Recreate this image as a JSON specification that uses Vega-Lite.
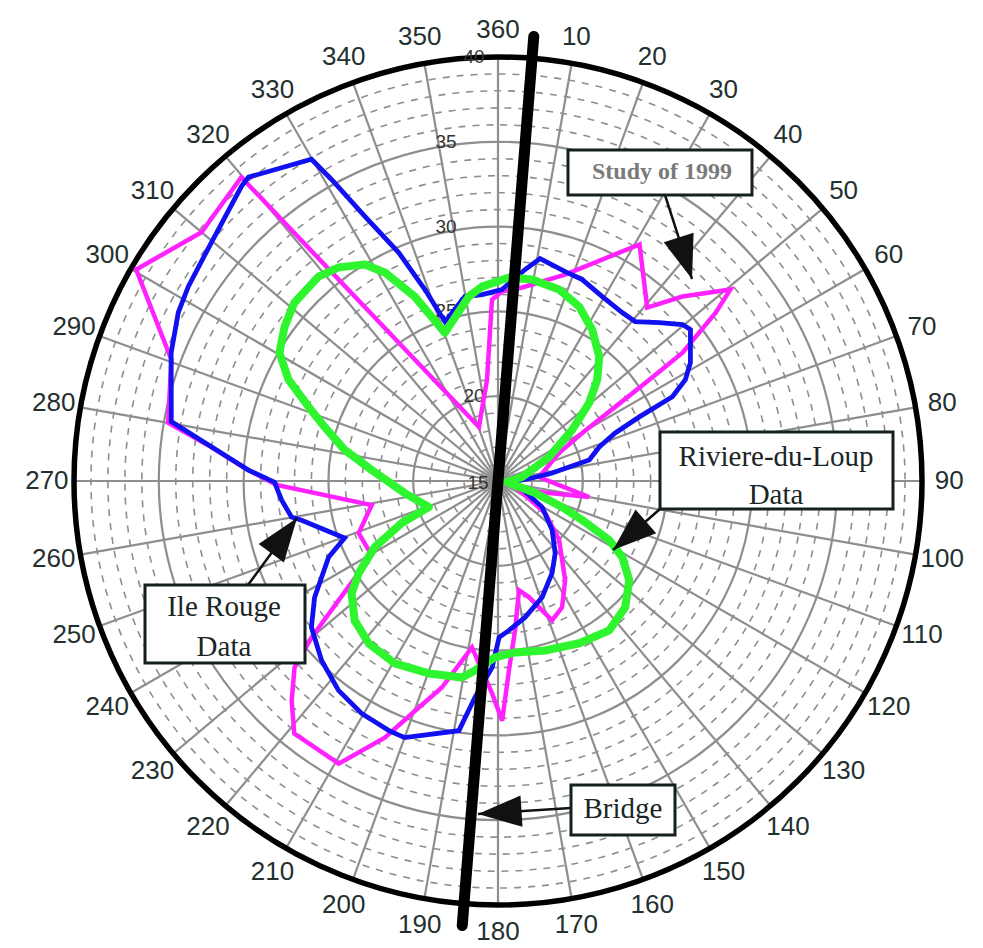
{
  "$schema": "https://vega.github.io/schema/vega-lite/v6.json",
  "width": 970,
  "height": 930,
  "autosize": {"type": "none"},
  "padding": {"left": 13, "top": 16, "right": 0, "bottom": 2},
  "background": "white",
  "config": {"view": {"stroke": null}},
  "datasets": {
    "rings": [{"v":16},{"v":17},{"v":18},{"v":19},{"v":20},{"v":21},{"v":22},{"v":23},{"v":24},{"v":25},{"v":26},{"v":27},{"v":28},{"v":29},{"v":30},{"v":31},{"v":32},{"v":33},{"v":34},{"v":35},{"v":36},{"v":37},{"v":38},{"v":39},{"v":40}],
    "spokes": [{"a":0},{"a":10},{"a":20},{"a":30},{"a":40},{"a":50},{"a":60},{"a":70},{"a":80},{"a":90},{"a":100},{"a":110},{"a":120},{"a":130},{"a":140},{"a":150},{"a":160},{"a":170},{"a":180},{"a":190},{"a":200},{"a":210},{"a":220},{"a":230},{"a":240},{"a":250},{"a":260},{"a":270},{"a":280},{"a":290},{"a":300},{"a":310},{"a":320},{"a":330},{"a":340},{"a":350}],
    "ticks": [{"a":10},{"a":20},{"a":30},{"a":40},{"a":50},{"a":60},{"a":70},{"a":80},{"a":90},{"a":100},{"a":110},{"a":120},{"a":130},{"a":140},{"a":150},{"a":160},{"a":170},{"a":180},{"a":190},{"a":200},{"a":210},{"a":220},{"a":230},{"a":240},{"a":250},{"a":260},{"a":270},{"a":280},{"a":290},{"a":300},{"a":310},{"a":320},{"a":330},{"a":340},{"a":350},{"a":360}],
    "rlabels": [{"v":25},{"v":30},{"v":35}],
    "rlabels2": [{"v":20},{"v":40}],
    "center": [{"v":15}],
    "ileRouge": [
      {"i":0,"a":1.2,"v":26.29},{"i":1,"a":7.3,"v":27.57},{"i":2,"a":10.7,"v":28.35},{"i":3,"a":17.8,"v":27.97},{"i":4,"a":22.7,"v":27.87},{"i":5,"a":29.5,"v":27.49},{"i":6,"a":36.4,"v":27.34},{"i":7,"a":40.7,"v":27.4},{"i":8,"a":45.5,"v":28.33},{"i":9,"a":49.7,"v":29.26},{"i":10,"a":51.8,"v":29.44},{"i":11,"a":58.4,"v":28.32},{"i":12,"a":61.6,"v":27.56},{"i":13,"a":64.2,"v":26.42},{"i":14,"a":65.6,"v":24.15},{"i":15,"a":67.7,"v":22.47},{"i":16,"a":71.4,"v":21.3},{"i":17,"a":77,"v":20.52},{"i":18,"a":78.8,"v":19.28},{"i":19,"a":81.6,"v":18.23},{"i":20,"a":85,"v":17.02},{"i":21,"a":100,"v":15.6},{"i":22,"a":110,"v":16.6},{"i":23,"a":120.6,"v":18.02},{"i":24,"a":132.2,"v":19.31},{"i":25,"a":141.6,"v":20.43},{"i":26,"a":149.6,"v":21.3},{"i":27,"a":159.2,"v":22.33},{"i":28,"a":168.8,"v":23.2},{"i":29,"a":175.8,"v":23.83},{"i":30,"a":179.6,"v":24.22},{"i":31,"a":181.8,"v":26},{"i":32,"a":186.1,"v":27.84},{"i":33,"a":188.9,"v":29.9},{"i":34,"a":200,"v":31.1},{"i":35,"a":203.6,"v":31.06},{"i":36,"a":210.4,"v":30.89},{"i":37,"a":217.3,"v":30.52},{"i":38,"a":224.5,"v":29.84},{"i":39,"a":231.9,"v":28.98},{"i":40,"a":237.6,"v":27.81},{"i":41,"a":245.8,"v":25.95},{"i":42,"a":249.6,"v":24.65},{"i":43,"a":258.7,"v":26.81},{"i":44,"a":260.1,"v":27.36},{"i":45,"a":265,"v":27.81},{"i":46,"a":269.7,"v":28.18},{"i":47,"a":272.5,"v":29.73},{"i":48,"a":276.8,"v":32.02},{"i":49,"a":280.3,"v":34.58},{"i":50,"a":291.4,"v":35.7},{"i":51,"a":297.8,"v":36.31},{"i":52,"a":302.1,"v":36.56},{"i":53,"a":309.8,"v":36.99},{"i":54,"a":319,"v":38.04},{"i":55,"a":320.6,"v":38.18},{"i":56,"a":329.9,"v":36.93},{"i":57,"a":331.1,"v":35.31},{"i":58,"a":333.3,"v":32.47},{"i":59,"a":336.5,"v":29.69},{"i":60,"a":339.1,"v":27.08},{"i":61,"a":341.6,"v":24.9},{"i":62,"a":349.8,"v":26.05},{"i":63,"a":355.1,"v":26.03}
    ],
    "study1999": [
      {"i":0,"a":1.2,"v":26.17},{"i":1,"a":7.1,"v":26.5},{"i":2,"a":18,"v":27.8},{"i":3,"a":30.9,"v":31.25},{"i":4,"a":40.7,"v":28.49},{"i":5,"a":45,"v":30.38},{"i":6,"a":50.5,"v":32.76},{"i":7,"a":52.3,"v":31.22},{"i":8,"a":55.2,"v":28.25},{"i":9,"a":56.2,"v":25.74},{"i":10,"a":57.7,"v":23.18},{"i":11,"a":60.3,"v":20.72},{"i":12,"a":65.3,"v":18.97},{"i":13,"a":84.4,"v":17.43},{"i":14,"a":100,"v":20.46},{"i":15,"a":113.2,"v":16.35},{"i":16,"a":124.2,"v":18.36},{"i":17,"a":134,"v":20.01},{"i":18,"a":145.9,"v":22.06},{"i":19,"a":153.1,"v":23.35},{"i":20,"a":158.8,"v":23.81},{"i":21,"a":165,"v":22.1},{"i":22,"a":169.1,"v":21.56},{"i":23,"a":173.5,"v":23.87},{"i":24,"a":176.7,"v":26.19},{"i":25,"a":179,"v":29.13},{"i":26,"a":181.6,"v":27.53},{"i":27,"a":188.9,"v":24.93},{"i":28,"a":195.2,"v":27.62},{"i":29,"a":200.3,"v":29.62},{"i":30,"a":203.8,"v":31.54},{"i":31,"a":209.4,"v":34.13},{"i":32,"a":218.9,"v":34.13},{"i":33,"a":223.2,"v":32.77},{"i":34,"a":227.5,"v":31.27},{"i":35,"a":230,"v":29.35},{"i":36,"a":239.6,"v":23.64},{"i":37,"a":249.5,"v":23.77},{"i":38,"a":259.2,"v":22.58},{"i":39,"a":269,"v":28.06},{"i":40,"a":272.8,"v":29.9},{"i":41,"a":277,"v":32.2},{"i":42,"a":280,"v":34.75},{"i":43,"a":290.4,"v":35.55},{"i":44,"a":300.3,"v":39.71},{"i":45,"a":310,"v":37.82},{"i":46,"a":319.8,"v":38.45},{"i":47,"a":340.6,"v":18.38},{"i":48,"a":353.8,"v":21},{"i":49,"a":358.1,"v":25.7}
    ],
    "riviere": [
      {"i":0,"a":3.1,"v":27.02},{"i":1,"a":9.6,"v":27.05},{"i":2,"a":17.7,"v":26.85},{"i":3,"a":25,"v":26.34},{"i":4,"a":31.9,"v":25.51},{"i":5,"a":39.2,"v":24.45},{"i":6,"a":44.4,"v":23.36},{"i":7,"a":49.4,"v":22.08},{"i":8,"a":55.4,"v":20.31},{"i":9,"a":64.8,"v":18.33},{"i":10,"a":80.5,"v":16.44},{"i":11,"a":96,"v":15.53},{"i":12,"a":108,"v":17.3},{"i":13,"a":112.1,"v":19.08},{"i":14,"a":114.9,"v":20.47},{"i":15,"a":118,"v":22.43},{"i":16,"a":121.5,"v":23.6},{"i":17,"a":127.1,"v":24.7},{"i":18,"a":134.8,"v":25.57},{"i":19,"a":143.3,"v":25.98},{"i":20,"a":153.4,"v":25.7},{"i":21,"a":164.5,"v":25.37},{"i":22,"a":174.3,"v":25.16},{"i":23,"a":181,"v":25.4},{"i":24,"a":186.9,"v":26.25},{"i":25,"a":190.4,"v":26.78},{"i":26,"a":199.8,"v":27.06},{"i":27,"a":209.5,"v":27.36},{"i":28,"a":218.5,"v":27.24},{"i":29,"a":225.8,"v":26.79},{"i":30,"a":232.5,"v":25.88},{"i":31,"a":236.5,"v":24.85},{"i":32,"a":241.8,"v":23.25},{"i":33,"a":246.4,"v":21.19},{"i":34,"a":249.4,"v":19.36},{"i":35,"a":262.6,"v":20.54},{"i":36,"a":275,"v":22.48},{"i":37,"a":281.5,"v":24.23},{"i":38,"a":287.3,"v":25.71},{"i":39,"a":291.4,"v":27},{"i":40,"a":295.8,"v":28.72},{"i":41,"a":300.4,"v":29.94},{"i":42,"a":305.9,"v":30.53},{"i":43,"a":311.2,"v":30.96},{"i":44,"a":318.7,"v":31.04},{"i":45,"a":323.3,"v":30.71},{"i":46,"a":328.4,"v":29.99},{"i":47,"a":331.5,"v":28.99},{"i":48,"a":335.7,"v":26.93},{"i":49,"a":340.3,"v":24.29},{"i":50,"a":351,"v":26.01},{"i":51,"a":355.3,"v":26.5}
    ],
    "bridge": [{"a":4.6,"v":41.3}],
    "boxes": [
      {"name":"Study of 1999","x":4.127,"x2":14.976,"y":19.517,"y2":16.863},
      {"name":"Riviere-du-Loup","x":9.552,"x2":23.29,"y":2.889,"y2":-1.651},
      {"name":"Ile Rouge","x":-20.814,"x2":-11.38,"y":-6.132,"y2":-10.731},
      {"name":"Bridge","x":4.304,"x2":10.436,"y":-17.925,"y2":-20.873}
    ],
    "notes": [
      {"t":"Riviere-du-Loup","x":16.392,"y":1.415},
      {"t":"Data","x":16.392,"y":-0.825},
      {"t":"Ile Rouge","x":-16.156,"y":-7.429},
      {"t":"Data","x":-16.156,"y":-9.788},
      {"t":"Bridge","x":7.37,"y":-19.34}
    ],
    "studyNote": [{"t":"Study of 1999","x":9.67,"y":18.219}],
    "arrows": [
      {"x":9.847,"y":16.863,"x2":11.439,"y2":11.91},
      {"x":9.552,"y":-1.651,"x2":6.781,"y2":-4.068},
      {"x":-14.741,"y":-6.132,"x2":-11.851,"y2":-2.182},
      {"x":4.304,"y":-19.281,"x2":-1.179,"y2":-19.634}
    ]
  },
  "layer": [
    {
      "data": {"name": "rings"},
      "transform": [{"filter": "datum.v % 5 != 0"}, {"calculate": "datum.v - 15", "as": "r"}, {"calculate": "0", "as": "z"}],
      "mark": {"type": "point", "shape": "circle", "filled": false, "stroke": "#8e8e8e", "strokeWidth": 1.6, "strokeDash": [7, 7], "opacity": 1},
      "encoding": {
        "x": {"field": "z", "type": "quantitative", "scale": {"domain": [-28.597, 28.597], "nice": false, "zero": false}, "axis": null},
        "y": {"field": "z", "type": "quantitative", "scale": {"domain": [-27.417, 27.417], "nice": false, "zero": false}, "axis": null},
        "size": {"field": "r", "type": "quantitative", "scale": {"type": "pow", "exponent": 2, "domain": [0, 25], "range": [0, 719104], "zero": false}, "legend": null}
      }
    },
    {
      "data": {"name": "rings"},
      "transform": [{"filter": "datum.v % 5 == 0 && datum.v < 40"}, {"calculate": "datum.v - 15", "as": "r"}, {"calculate": "0", "as": "z"}],
      "mark": {"type": "point", "shape": "circle", "filled": false, "stroke": "#8e8e8e", "strokeWidth": 2.2, "opacity": 1},
      "encoding": {
        "x": {"field": "z", "type": "quantitative", "axis": null},
        "y": {"field": "z", "type": "quantitative", "axis": null},
        "size": {"field": "r", "type": "quantitative", "legend": null}
      }
    },
    {
      "data": {"name": "spokes"},
      "transform": [
        {"calculate": "25*sin(datum.a*PI/180)", "as": "ex"},
        {"calculate": "25*cos(datum.a*PI/180)", "as": "ey"},
        {"calculate": "0", "as": "z"}
      ],
      "mark": {"type": "rule", "stroke": "#8e8e8e", "strokeWidth": 2.2},
      "encoding": {
        "x": {"field": "z", "type": "quantitative", "axis": null},
        "y": {"field": "z", "type": "quantitative", "axis": null},
        "x2": {"field": "ex"},
        "y2": {"field": "ey"}
      }
    },
    {
      "data": {"name": "rings"},
      "transform": [{"filter": "datum.v == 40"}, {"calculate": "datum.v - 15", "as": "r"}, {"calculate": "0", "as": "z"}],
      "mark": {"type": "point", "shape": "circle", "filled": false, "stroke": "#000000", "strokeWidth": 5.5, "opacity": 1},
      "encoding": {
        "x": {"field": "z", "type": "quantitative", "axis": null},
        "y": {"field": "z", "type": "quantitative", "axis": null},
        "size": {"field": "r", "type": "quantitative", "legend": null}
      }
    },
    {
      "data": {"name": "rlabels"},
      "transform": [{"calculate": "datum.v - 15", "as": "y"}, {"calculate": "0", "as": "z"}],
      "mark": {"type": "text", "font": "Liberation Sans", "fontSize": 19, "color": "#333333", "align": "center", "baseline": "middle", "dx": -52},
      "encoding": {
        "x": {"field": "z", "type": "quantitative", "axis": null},
        "y": {"field": "y", "type": "quantitative", "axis": null},
        "text": {"field": "v", "type": "nominal"}
      }
    },
    {
      "data": {"name": "rlabels2"},
      "transform": [{"calculate": "datum.v - 15", "as": "y"}, {"calculate": "0", "as": "z"}],
      "mark": {"type": "text", "font": "Liberation Sans", "fontSize": 19, "color": "#333333", "align": "center", "baseline": "middle", "dx": -24},
      "encoding": {
        "x": {"field": "z", "type": "quantitative", "axis": null},
        "y": {"field": "y", "type": "quantitative", "axis": null},
        "text": {"field": "v", "type": "nominal"}
      }
    },
    {
      "data": {"name": "center"},
      "transform": [{"calculate": "datum.v - 15", "as": "y"}, {"calculate": "0", "as": "z"}],
      "mark": {"type": "text", "font": "Liberation Sans", "fontSize": 19, "color": "#333333", "align": "center", "baseline": "middle", "dx": -20, "dy": 2},
      "encoding": {
        "x": {"field": "z", "type": "quantitative", "axis": null},
        "y": {"field": "y", "type": "quantitative", "axis": null},
        "text": {"field": "v", "type": "nominal"}
      }
    },
    {
      "data": {"name": "ticks"},
      "transform": [
        {"calculate": "26.6*sin(datum.a*PI/180)", "as": "x"},
        {"calculate": "26.6*cos(datum.a*PI/180)", "as": "y"}
      ],
      "mark": {"type": "text", "font": "Liberation Sans", "fontSize": 26, "color": "#243030", "align": "center", "baseline": "middle"},
      "encoding": {
        "x": {"field": "x", "type": "quantitative", "axis": null},
        "y": {"field": "y", "type": "quantitative", "axis": null},
        "text": {"field": "a", "type": "nominal"}
      }
    },
    {
      "data": {"name": "study1999"},
      "transform": [
        {"calculate": "(datum.v-15)*sin(datum.a*PI/180)", "as": "x"},
        {"calculate": "(datum.v-15)*cos(datum.a*PI/180)", "as": "y"}
      ],
      "mark": {"type": "line", "interpolate": "linear-closed", "stroke": "#ff22ff", "strokeWidth": 4.5, "strokeJoin": "miter"},
      "encoding": {
        "x": {"field": "x", "type": "quantitative", "axis": null},
        "y": {"field": "y", "type": "quantitative", "axis": null},
        "order": {"field": "i", "type": "quantitative"}
      }
    },
    {
      "data": {"name": "ileRouge"},
      "transform": [
        {"calculate": "(datum.v-15)*sin(datum.a*PI/180)", "as": "x"},
        {"calculate": "(datum.v-15)*cos(datum.a*PI/180)", "as": "y"}
      ],
      "mark": {"type": "line", "interpolate": "linear-closed", "stroke": "#1010f0", "strokeWidth": 4.8, "strokeJoin": "miter"},
      "encoding": {
        "x": {"field": "x", "type": "quantitative", "axis": null},
        "y": {"field": "y", "type": "quantitative", "axis": null},
        "order": {"field": "i", "type": "quantitative"}
      }
    },
    {
      "data": {"name": "riviere"},
      "transform": [
        {"calculate": "(datum.v-15)*sin(datum.a*PI/180)", "as": "x"},
        {"calculate": "(datum.v-15)*cos(datum.a*PI/180)", "as": "y"}
      ],
      "mark": {"type": "line", "interpolate": "linear-closed", "stroke": "#2ff52f", "strokeWidth": 8, "strokeJoin": "round"},
      "encoding": {
        "x": {"field": "x", "type": "quantitative", "axis": null},
        "y": {"field": "y", "type": "quantitative", "axis": null},
        "order": {"field": "i", "type": "quantitative"}
      }
    },
    {
      "data": {"name": "bridge"},
      "transform": [
        {"calculate": "(datum.v-15)*sin(datum.a*PI/180)", "as": "x"},
        {"calculate": "(datum.v-15)*cos(datum.a*PI/180)", "as": "y"},
        {"calculate": "-datum.x", "as": "x2"},
        {"calculate": "-datum.y", "as": "y2"}
      ],
      "mark": {"type": "rule", "stroke": "#000000", "strokeWidth": 11, "strokeCap": "round"},
      "encoding": {
        "x": {"field": "x", "type": "quantitative", "axis": null},
        "y": {"field": "y", "type": "quantitative", "axis": null},
        "x2": {"field": "x2"},
        "y2": {"field": "y2"}
      }
    },
    {
      "data": {"name": "arrows"},
      "mark": {"type": "rule", "stroke": "#111111", "strokeWidth": 2.5},
      "encoding": {
        "x": {"field": "x", "type": "quantitative", "axis": null},
        "y": {"field": "y", "type": "quantitative", "axis": null},
        "x2": {"field": "x2"},
        "y2": {"field": "y2"}
      }
    },
    {
      "data": {"name": "arrows"},
      "transform": [{"calculate": "atan2(datum.x2-datum.x, datum.y2-datum.y)*180/PI", "as": "ang"}],
      "mark": {"type": "point", "shape": "M0,0L0.72,2L-0.72,2Z", "size": 1900, "filled": true, "fill": "#111111", "strokeWidth": 0, "opacity": 1},
      "encoding": {
        "x": {"field": "x2", "type": "quantitative", "axis": null},
        "y": {"field": "y2", "type": "quantitative", "axis": null},
        "angle": {"field": "ang", "type": "quantitative", "scale": {"domain": [-360, 360], "range": [-360, 360]}, "legend": null}
      }
    },
    {
      "data": {"name": "boxes"},
      "mark": {"type": "rect", "fill": "#ffffff", "stroke": "#142020", "strokeWidth": 3},
      "encoding": {
        "x": {"field": "x", "type": "quantitative", "axis": null},
        "x2": {"field": "x2"},
        "y": {"field": "y", "type": "quantitative", "axis": null},
        "y2": {"field": "y2"}
      }
    },
    {
      "data": {"name": "notes"},
      "mark": {"type": "text", "font": "Liberation Serif", "fontSize": 29, "color": "#1a2626", "align": "center", "baseline": "middle"},
      "encoding": {
        "x": {"field": "x", "type": "quantitative", "axis": null},
        "y": {"field": "y", "type": "quantitative", "axis": null},
        "text": {"field": "t", "type": "nominal"}
      }
    },
    {
      "data": {"name": "studyNote"},
      "mark": {"type": "text", "font": "Liberation Serif", "fontSize": 24, "fontWeight": "bold", "color": "#7a7a7a", "align": "center", "baseline": "middle"},
      "encoding": {
        "x": {"field": "x", "type": "quantitative", "axis": null},
        "y": {"field": "y", "type": "quantitative", "axis": null},
        "text": {"field": "t", "type": "nominal"}
      }
    }
  ]
}
